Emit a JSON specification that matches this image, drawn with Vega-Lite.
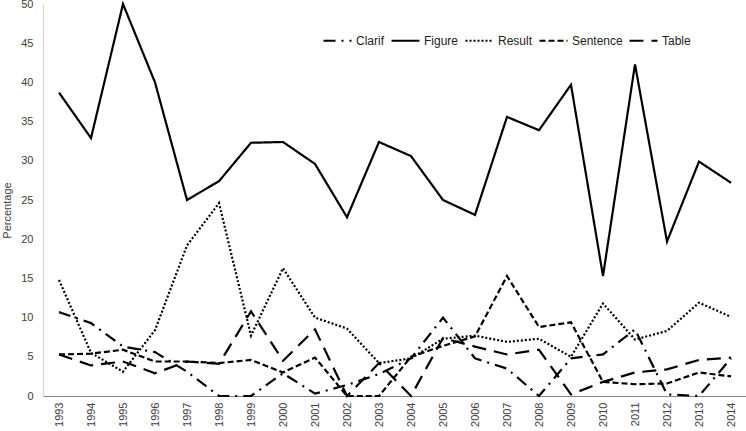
{
  "$schema": "https://vega.github.io/schema/vega-lite/v6.json",
  "autosize": {"type": "none"},
  "width": 704,
  "height": 392,
  "padding": {"left": 43, "top": 4, "right": 0, "bottom": 35},
  "background": "white",
  "config": {"view": {"stroke": null}, "font": "Liberation Sans"},
  "datasets": {
    "d": [
      {"year": "1993", "series": "Clarif", "value": 10.7},
      {"year": "1994", "series": "Clarif", "value": 9.3},
      {"year": "1995", "series": "Clarif", "value": 6.3},
      {"year": "1996", "series": "Clarif", "value": 5.6},
      {"year": "1997", "series": "Clarif", "value": 3.1},
      {"year": "1998", "series": "Clarif", "value": 0},
      {"year": "1999", "series": "Clarif", "value": 0},
      {"year": "2000", "series": "Clarif", "value": 2.9},
      {"year": "2001", "series": "Clarif", "value": 0.3},
      {"year": "2002", "series": "Clarif", "value": 1.4},
      {"year": "2003", "series": "Clarif", "value": 2.8},
      {"year": "2004", "series": "Clarif", "value": 4.8},
      {"year": "2005", "series": "Clarif", "value": 10.0},
      {"year": "2006", "series": "Clarif", "value": 4.8},
      {"year": "2007", "series": "Clarif", "value": 3.5},
      {"year": "2008", "series": "Clarif", "value": 0},
      {"year": "2009", "series": "Clarif", "value": 4.8},
      {"year": "2010", "series": "Clarif", "value": 5.3},
      {"year": "2011", "series": "Clarif", "value": 8.5},
      {"year": "2012", "series": "Clarif", "value": 0.2},
      {"year": "2013", "series": "Clarif", "value": 0},
      {"year": "2014", "series": "Clarif", "value": 4.8},
      {"year": "1993", "series": "Figure", "value": 38.7},
      {"year": "1994", "series": "Figure", "value": 32.9},
      {"year": "1995", "series": "Figure", "value": 50.0},
      {"year": "1996", "series": "Figure", "value": 40.0},
      {"year": "1997", "series": "Figure", "value": 25.0},
      {"year": "1998", "series": "Figure", "value": 27.4},
      {"year": "1999", "series": "Figure", "value": 32.3},
      {"year": "2000", "series": "Figure", "value": 32.4},
      {"year": "2001", "series": "Figure", "value": 29.6},
      {"year": "2002", "series": "Figure", "value": 22.8},
      {"year": "2003", "series": "Figure", "value": 32.4},
      {"year": "2004", "series": "Figure", "value": 30.6},
      {"year": "2005", "series": "Figure", "value": 25.0},
      {"year": "2006", "series": "Figure", "value": 23.1},
      {"year": "2007", "series": "Figure", "value": 35.6},
      {"year": "2008", "series": "Figure", "value": 33.9},
      {"year": "2009", "series": "Figure", "value": 39.7},
      {"year": "2010", "series": "Figure", "value": 15.3},
      {"year": "2011", "series": "Figure", "value": 42.3},
      {"year": "2012", "series": "Figure", "value": 19.7},
      {"year": "2013", "series": "Figure", "value": 29.9},
      {"year": "2014", "series": "Figure", "value": 27.2},
      {"year": "1993", "series": "Result", "value": 14.8},
      {"year": "1994", "series": "Result", "value": 5.5},
      {"year": "1995", "series": "Result", "value": 3.1},
      {"year": "1996", "series": "Result", "value": 8.4},
      {"year": "1997", "series": "Result", "value": 19.2},
      {"year": "1998", "series": "Result", "value": 24.6},
      {"year": "1999", "series": "Result", "value": 7.7},
      {"year": "2000", "series": "Result", "value": 16.3},
      {"year": "2001", "series": "Result", "value": 10.0},
      {"year": "2002", "series": "Result", "value": 8.6},
      {"year": "2003", "series": "Result", "value": 4.2},
      {"year": "2004", "series": "Result", "value": 4.8},
      {"year": "2005", "series": "Result", "value": 7.3},
      {"year": "2006", "series": "Result", "value": 7.7},
      {"year": "2007", "series": "Result", "value": 6.9},
      {"year": "2008", "series": "Result", "value": 7.3},
      {"year": "2009", "series": "Result", "value": 5.0},
      {"year": "2010", "series": "Result", "value": 11.8},
      {"year": "2011", "series": "Result", "value": 7.2},
      {"year": "2012", "series": "Result", "value": 8.3},
      {"year": "2013", "series": "Result", "value": 11.9},
      {"year": "2014", "series": "Result", "value": 10.1},
      {"year": "1993", "series": "Sentence", "value": 5.3},
      {"year": "1994", "series": "Sentence", "value": 5.4},
      {"year": "1995", "series": "Sentence", "value": 5.9},
      {"year": "1996", "series": "Sentence", "value": 4.4},
      {"year": "1997", "series": "Sentence", "value": 4.4},
      {"year": "1998", "series": "Sentence", "value": 4.2},
      {"year": "1999", "series": "Sentence", "value": 4.6},
      {"year": "2000", "series": "Sentence", "value": 3.0},
      {"year": "2001", "series": "Sentence", "value": 4.9},
      {"year": "2002", "series": "Sentence", "value": 0},
      {"year": "2003", "series": "Sentence", "value": 0},
      {"year": "2004", "series": "Sentence", "value": 5.0},
      {"year": "2005", "series": "Sentence", "value": 6.4},
      {"year": "2006", "series": "Sentence", "value": 7.6},
      {"year": "2007", "series": "Sentence", "value": 15.3},
      {"year": "2008", "series": "Sentence", "value": 8.8},
      {"year": "2009", "series": "Sentence", "value": 9.4},
      {"year": "2010", "series": "Sentence", "value": 1.8},
      {"year": "2011", "series": "Sentence", "value": 1.5},
      {"year": "2012", "series": "Sentence", "value": 1.6},
      {"year": "2013", "series": "Sentence", "value": 3.0},
      {"year": "2014", "series": "Sentence", "value": 2.5},
      {"year": "1993", "series": "Table", "value": 5.3},
      {"year": "1994", "series": "Table", "value": 3.9},
      {"year": "1995", "series": "Table", "value": 4.4},
      {"year": "1996", "series": "Table", "value": 2.9},
      {"year": "1997", "series": "Table", "value": 4.4},
      {"year": "1998", "series": "Table", "value": 4.1},
      {"year": "1999", "series": "Table", "value": 10.8},
      {"year": "2000", "series": "Table", "value": 4.5},
      {"year": "2001", "series": "Table", "value": 8.5},
      {"year": "2002", "series": "Table", "value": 0},
      {"year": "2003", "series": "Table", "value": 4.2},
      {"year": "2004", "series": "Table", "value": 0},
      {"year": "2005", "series": "Table", "value": 7.4},
      {"year": "2006", "series": "Table", "value": 6.3},
      {"year": "2007", "series": "Table", "value": 5.3},
      {"year": "2008", "series": "Table", "value": 5.9},
      {"year": "2009", "series": "Table", "value": 0.2},
      {"year": "2010", "series": "Table", "value": 1.8},
      {"year": "2011", "series": "Table", "value": 3.0},
      {"year": "2012", "series": "Table", "value": 3.4},
      {"year": "2013", "series": "Table", "value": 4.6},
      {"year": "2014", "series": "Table", "value": 4.9}
    ]
  },
  "data": {"name": "d"},
  "mark": {"type": "line", "color": "black", "strokeWidth": 2.2},
  "encoding": {
    "x": {
      "field": "year",
      "type": "ordinal",
      "scale": {"type": "point", "padding": 0.5},
      "axis": {
        "title": null,
        "labelAngle": -90,
        "labelFontSize": 11,
        "labelColor": "#404040",
        "labelPadding": 6,
        "ticks": false,
        "domainColor": "#868686",
        "domainWidth": 1,
        "grid": false
      }
    },
    "y": {
      "field": "value",
      "type": "quantitative",
      "scale": {"domain": [0, 50], "nice": false},
      "axis": {
        "title": "Percentage",
        "titleFontSize": 11,
        "titleFontWeight": "normal",
        "titleColor": "#404040",
        "titlePadding": 8,
        "titleY": 206,
        "values": [0, 5, 10, 15, 20, 25, 30, 35, 40, 45, 50],
        "labelFontSize": 11,
        "labelColor": "#404040",
        "labelPadding": 10,
        "ticks": false,
        "domainColor": "#d0d0d0",
        "grid": false
      }
    },
    "strokeDash": {
      "field": "series",
      "type": "nominal",
      "scale": {
        "domain": ["Clarif", "Figure", "Result", "Sentence", "Table"],
        "range": [[12, 6, 2, 6], [1, 0], [2, 2], [6, 3], [14, 8]]
      },
      "legend": {
        "title": null,
        "orient": "none",
        "legendX": 279,
        "legendY": 21,
        "direction": "horizontal",
        "symbolType": "stroke",
        "symbolSize": 784,
        "symbolStrokeWidth": 2.2,
        "symbolStrokeColor": "black",
        "labelFontSize": 12,
        "labelColor": "#222",
        "labelOffset": 3,
        "columnPadding": 2
      }
    }
  }
}
